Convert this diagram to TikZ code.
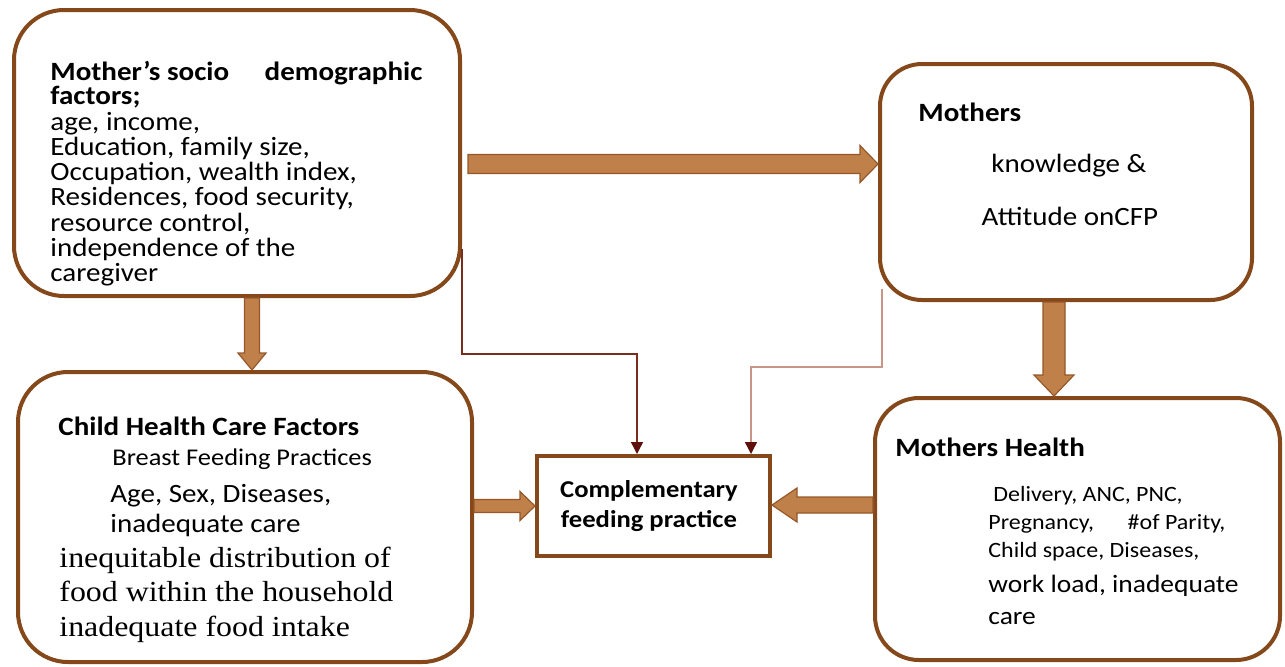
\documentclass[tikz,border=0pt]{standalone}
\usepackage{fontspec}
\setmainfont{Carlito}[FakeStretch=1.1]
\newfontfamily\timesfont{Liberation Serif}[FakeStretch=1.1]
\usepackage{tikz}
\usetikzlibrary{calc,arrows.meta,positioning}
\definecolor{boxbrown}{RGB}{133,72,26}
\definecolor{arrowfill}{RGB}{192,128,74}
\definecolor{arrowedge}{RGB}{150,88,40}
\definecolor{linkdark}{RGB}{122,45,26}
\definecolor{linklight}{RGB}{200,150,135}
\definecolor{tipred}{RGB}{96,16,12}
\newcommand\fatarrow[5]{%
  \coordinate (hb) at ($(#2)!#5!(#1)$);
  \draw[fatarrow] ($(#1)!#3!90:(#2)$) -- ($(hb)!#3!90:(#2)$) -- ($(hb)!#4!90:(#2)$)
    -- (#2) -- ($(hb)!#4!-90:(#2)$) -- ($(hb)!#3!-90:(#2)$) -- ($(#1)!#3!-90:(#2)$) -- cycle;
}

\begin{document}
\begin{tikzpicture}[x=0.5pt,y=-0.5pt]
\tikzstyle{roundbox}=[draw=boxbrown,line width=2pt,rounded corners=25pt,inner sep=0pt]
\tikzstyle{plainbox}=[draw=boxbrown,line width=2pt,inner sep=0pt]
\tikzstyle{txt}=[inner sep=0pt,anchor=base west,font=\fontsize{13.2}{15}\selectfont]
\tikzstyle{fatarrow}=[draw=arrowedge,line width=0.6pt,fill=arrowfill]
\tikzstyle{link}=[line width=0.7pt,-{Triangle[width=6pt,length=6pt,color=tipred]}]
\useasboundingbox (0,0) rectangle (1285,666);

\node[roundbox,minimum width=223pt,minimum height=143pt] (socio) at (237,153) {};
\node[roundbox,minimum width=186pt,minimum height=118pt,rounded corners=21pt] (know) at (1066,182) {};
\node[roundbox,minimum width=227pt,minimum height=145pt] (child) at (245,517) {};
\node[roundbox,minimum width=202.5pt,minimum height=131pt,rounded corners=22pt] (mhealth) at (1077.5,529) {};
\node[plainbox,minimum width=116.5pt,minimum height=50pt] (cfp) at (653.5,506) {};

\node[txt,font=\fontsize{13.2}{15}\selectfont\bfseries] (socio-title) at (50,80) {\makebox[186pt][l]{Mother's socio\hfill demographic}};
\node[txt,font=\fontsize{13.2}{15}\selectfont\bfseries] (socio-sub) at (50,104.5) {factors;};
\foreach \t [count=\i from 0] in {{age, income,},{Education, family size,},{Occupation, wealth index,},{Residences, food security,},{resource control,},{independence of the},{caregiver}}
  \node[txt] (socio-\i) at (50,{130+25.3*\i}) {\t};

\node[txt,font=\fontsize{13.2}{15}\selectfont\bfseries] (know-title) at (918,121) {Mothers};
\node[txt,anchor=base] (know-1) at (1069,172) {knowledge \&};
\node[txt,anchor=base] (know-2) at (1070,225) {Attitude onCFP};

\node[txt,font=\fontsize{13.2}{15}\selectfont\bfseries] (child-title) at (58,435) {Child Health Care Factors};
\node[txt,font=\fontsize{12}{14}\selectfont] (child-1) at (112,465) {Breast Feeding Practices};
\node[txt] (child-2) at (110,502) {Age, Sex, Diseases,};
\node[txt] (child-3) at (110,532) {inadequate care};
\node[txt,font=\fontsize{14.5}{17}\timesfont] (child-4) at (59,567) {inequitable distribution of};
\node[txt,font=\fontsize{14.5}{17}\timesfont] (child-5) at (59,601) {food within the household};
\node[txt,font=\fontsize{14.5}{17}\timesfont] (child-6) at (59,636) {inadequate food intake};

\node[txt,font=\fontsize{13.2}{15}\selectfont\bfseries] (mhealth-title) at (895,456) {Mothers Health};
\node[txt,font=\fontsize{10.9}{13}\selectfont] (mhealth-1) at (993,501) {Delivery, ANC, PNC,};
\node[txt,font=\fontsize{10.9}{13}\selectfont] (mhealth-2) at (988,529) {\makebox[118.5pt][l]{Pregnancy,\hfill\#of Parity,}};
\node[txt,font=\fontsize{10.9}{13}\selectfont] (mhealth-3) at (988,557) {Child space, Diseases,};
\node[txt,font=\fontsize{12.5}{15}\selectfont] (mhealth-4) at (988,592) {work load, inadequate};
\node[txt,font=\fontsize{12.5}{15}\selectfont] (mhealth-5) at (988,624) {care};

\node[txt,anchor=base,font=\fontsize{12.1}{15}\selectfont\bfseries] (cfp-1) at (649,497) {Complementary};
\node[txt,anchor=base,font=\fontsize{12.1}{15}\selectfont\bfseries] (cfp-2) at (649,527) {feeding practice};

\coordinate (a1s) at ($(socio.east)+(6,11)$);
\coordinate (a1e) at (know.west |- a1s);
\fatarrow{a1s}{a1e}{4.75pt}{9.25pt}{9pt}
\coordinate (a2s) at ($(socio.south)+(15,0)$);
\coordinate (a2e) at (a2s |- child.north);
\fatarrow{a2s}{a2e}{3.75pt}{7pt}{8.5pt}
\coordinate (a3s) at ($(know.south)+(-12,0)$);
\coordinate (a3e) at (a3s |- mhealth.north);
\fatarrow{a3s}{a3e}{5.5pt}{10pt}{10.5pt}
\coordinate (a4s) at (child.east |- cfp.west);
\fatarrow{a4s}{cfp.west}{3.25pt}{7.25pt}{7.5pt}
\coordinate (a5s) at ($(mhealth.west)+(0,-24)$);
\coordinate (a5e) at (cfp.east |- a5s);
\fatarrow{a5s}{a5e}{4pt}{8.5pt}{12.5pt}

\coordinate (l1s) at ($(socio.south east)+(0,-49)$);
\coordinate (l2s) at ($(know.south west)+(4,-13)$);
\draw[link,linkdark] (l1s) -- ($(l1s)+(0,105)$) -| ($(cfp.north)+(-16.5,0)$);
\draw[link,linklight] (l2s) -- ($(l2s)+(0,78)$) -| ($(cfp.north)+(97.5,0)$);
\end{tikzpicture}
\end{document}
